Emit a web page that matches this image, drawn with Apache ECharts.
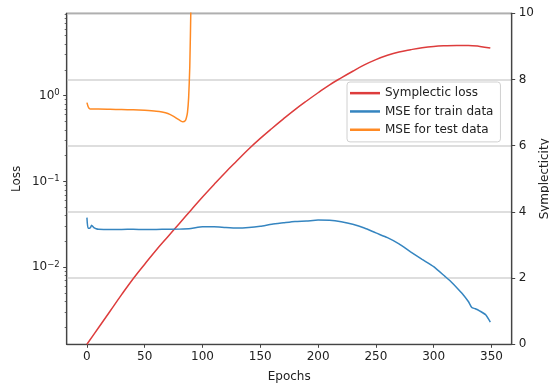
<!DOCTYPE html>
<html>
<head>
<meta charset="utf-8">
<script src="https://cdn.jsdelivr.net/npm/echarts@6/dist/echarts.min.js"></script>
<style>
  html, body { margin: 0; padding: 0; background: #fff; }
  #chart { width: 549px; height: 384px; }
</style>
</head>
<body>
<div id="chart"></div>
<script>
// Symplectic loss (right axis, linear)
const symEpochs = [0, 10, 20, 30, 40, 50, 60, 70, 80, 90, 100, 110, 120, 130, 140, 150, 160, 170, 180,
  190, 200, 210, 220, 230, 240, 250, 260, 270, 280, 290, 300, 310, 320, 330, 340, 349]
const symplecticLoss = [0.0, 0.5, 1.0, 1.5, 1.98, 2.42, 2.85, 3.25, 3.65, 4.05, 4.45, 4.83, 5.2, 5.55,
  5.9, 6.22, 6.52, 6.81, 7.09, 7.35, 7.6, 7.84, 8.05, 8.25, 8.44, 8.6, 8.73, 8.83, 8.9, 8.96, 9.0,
  9.02, 9.03, 9.03, 9.0, 8.95]

// MSE for train data (left axis, log)
const trainEpochs = [0, 1, 3, 4, 6, 8, 10, 20, 30, 40, 50, 60, 70, 80, 90, 100, 110, 120, 130, 140,
  150, 160, 170, 180, 190, 200, 210, 220, 230, 240, 250, 260, 270, 280, 290, 300, 310, 315, 320,
  325, 330, 333, 336, 340, 345, 349]
const trainMse = [0.038, 0.0285, 0.029, 0.031, 0.029, 0.0282, 0.0278, 0.0276, 0.0277, 0.0278, 0.0276,
  0.0277, 0.0278, 0.0279, 0.0284, 0.0298, 0.0298, 0.0292, 0.0288, 0.0292, 0.0302, 0.0318, 0.033,
  0.0342, 0.0347, 0.0356, 0.0354, 0.034, 0.0318, 0.0288, 0.0252, 0.0222, 0.0188, 0.0152, 0.0124,
  0.0102, 0.0078, 0.0068, 0.0058, 0.0049, 0.004, 0.0034, 0.0033, 0.0031, 0.0028, 0.0023]

// MSE for test data (left axis, log) - blows up past the top of the axis
const testEpochs = [0, 1, 2, 3, 10, 20, 30, 40, 50, 60, 65, 70, 75, 78, 81, 83, 85, 86, 87, 88, 89, 90, 91]
const testMse = [0.83, 0.75, 0.71, 0.7, 0.7, 0.695, 0.69, 0.685, 0.675, 0.66, 0.645, 0.62, 0.575,
  0.54, 0.51, 0.497, 0.51, 0.55, 0.64, 0.95, 2.2, 12, 100]

const xTicks = [0, 50, 100, 150, 200, 250, 300, 350]
const lossTicks = [0.01, 0.1, 1]
const lossMinorTicks = [0.002, 0.003, 0.004, 0.005, 0.006, 0.007, 0.008, 0.009,
  0.02, 0.03, 0.04, 0.05, 0.06, 0.07, 0.08, 0.09,
  0.2, 0.3, 0.4, 0.5, 0.6, 0.7, 0.8, 0.9,
  2, 3, 4, 5, 6, 7, 8, 9]

const LOSS_MIN = 0.00127
const LOSS_MAX = 9.12
const FONT = 'DejaVu Sans'
const FS = 12
const TEXT = '#222'
const SPINE = '#444'

const zip = (xs, ys) => xs.map((x, i) => [x, ys[i]])

const superscript = (value) => {
  const exp = Math.round(Math.log10(value))
  const txt = exp < 0 ? '\u2212' + -exp : String(exp)
  return '{b|10}{e|' + txt + '}'
}

const chart = echarts.init(document.getElementById('chart'), null, { renderer: 'canvas' })

chart.setOption({
  animation: false,
  textStyle: { fontFamily: FONT, color: TEXT },
  grid: {
    left: 66.7, right: 37.3, top: 13.3, bottom: 39.7,
    containLabel: false, outerBoundsMode: 'none',
    show: true, borderColor: SPINE, borderWidth: 1.2, backgroundColor: 'transparent',
  },
  legend: {
    orient: 'vertical',
    left: 347, top: 82,
    padding: [2, 7, 3, 3],
    backgroundColor: 'rgba(255,255,255,0.85)',
    borderColor: '#d0d0d0', borderWidth: 1, borderRadius: 3,
    icon: 'rect', itemWidth: 30, itemHeight: 2.5, itemGap: 0,
    textStyle: { fontFamily: FONT, fontSize: FS, color: TEXT, lineHeight: 18.3 },
    data: ['Symplectic loss', 'MSE for train data', 'MSE for test data'],
  },
  xAxis: {
    type: 'value', min: -17.5, max: 367.5,
    name: 'Epochs', nameLocation: 'middle', nameGap: 27, nameMoveOverlap: false,
    nameTextStyle: { fontFamily: FONT, fontSize: FS, color: TEXT },
    axisLine: { show: true, onZero: false, lineStyle: { color: SPINE, width: 1.2 } },
    axisTick: { show: true, inside: false, length: 3.5, lineStyle: { color: SPINE }, customValues: xTicks },
    axisLabel: { fontFamily: FONT, fontSize: FS, color: TEXT, margin: 7, customValues: xTicks },
    splitLine: { show: false },
  },
  yAxis: [
    {
      type: 'log', logBase: 10, min: LOSS_MIN, max: LOSS_MAX, position: 'left',
      name: 'Loss', nameLocation: 'middle', nameGap: 44, nameRotate: 90, nameMoveOverlap: false,
      nameTextStyle: { fontFamily: FONT, fontSize: FS, color: TEXT },
      axisLine: { show: true, onZero: false, lineStyle: { color: SPINE, width: 1.2 } },
      axisTick: { show: true, length: 3.5, lineStyle: { color: SPINE }, customValues: lossTicks },
      axisLabel: {
        margin: 7, customValues: lossTicks,
        formatter: superscript,
        rich: {
          b: { fontFamily: FONT, fontSize: FS, color: TEXT, lineHeight: 15 },
          e: { fontFamily: FONT, fontSize: 8.5, color: TEXT, lineHeight: 15, verticalAlign: 'top', padding: [0, 0, 6, 0] },
        },
      },
      splitLine: { show: false },
    },
    {
      type: 'value', min: 0, max: 10, interval: 2, position: 'right',
      name: 'Symplecticity', nameLocation: 'middle', nameGap: 27, nameRotate: 90, nameMoveOverlap: false,
      nameTextStyle: { fontFamily: FONT, fontSize: FS, color: TEXT },
      axisLine: { show: true, onZero: false, lineStyle: { color: SPINE, width: 1.2 } },
      axisTick: { show: true, length: 3.5, lineStyle: { color: SPINE } },
      axisLabel: { fontFamily: FONT, fontSize: FS, color: TEXT, margin: 7 },
      splitLine: { show: true, lineStyle: { color: '#d3d3d3', width: 1.5 } },
    },
    {
      // minor ticks of the log axis
      type: 'log', logBase: 10, min: LOSS_MIN, max: LOSS_MAX, position: 'left',
      axisLine: { show: false, onZero: false },
      axisTick: { show: true, length: 2, lineStyle: { color: SPINE, width: 0.8 }, customValues: lossMinorTicks },
      axisLabel: { show: false },
      splitLine: { show: false },
    },
  ],
  series: [
    {
      name: 'Symplectic loss', type: 'line', yAxisIndex: 1,
      data: zip(symEpochs, symplecticLoss),
      smooth: 0.4, showSymbol: false, symbol: 'none',
      lineStyle: { color: '#dd3c3c', width: 1.5 }, itemStyle: { color: '#dd3c3c' },
      z: 3,
    },
    {
      name: 'MSE for train data', type: 'line', yAxisIndex: 0,
      data: zip(trainEpochs, trainMse),
      smooth: 0.2, showSymbol: false, symbol: 'none',
      lineStyle: { color: '#3585c0', width: 1.5 }, itemStyle: { color: '#3585c0' },
      z: 3,
    },
    {
      name: 'MSE for test data', type: 'line', yAxisIndex: 0,
      data: zip(testEpochs, testMse),
      smooth: 0.2, showSymbol: false, symbol: 'none', clip: true,
      lineStyle: { color: '#ff8a24', width: 1.5 }, itemStyle: { color: '#ff8a24' },
      z: 3,
    },
  ],
})
</script>
</body>
</html>
